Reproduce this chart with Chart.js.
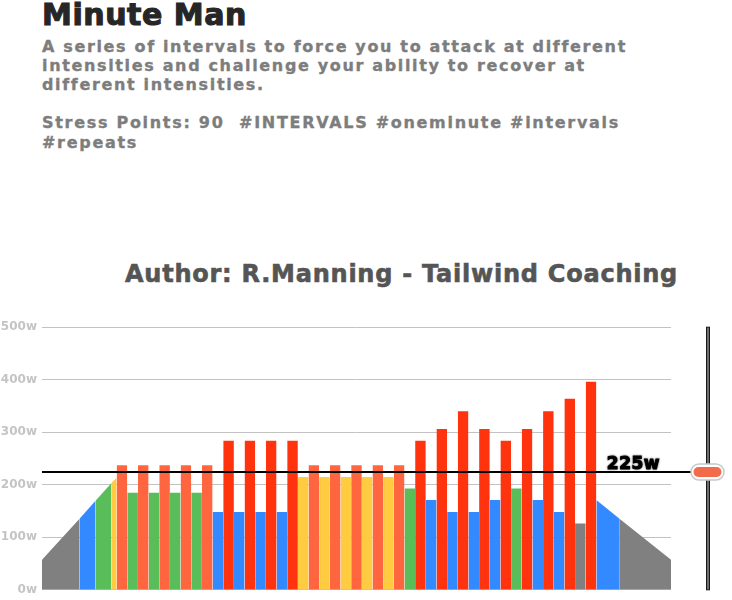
<!DOCTYPE html>
<html><head><meta charset="utf-8">
<script src="https://cdn.jsdelivr.net/npm/chart.js@4"></script>
<style>
html,body{margin:0;padding:0;background:#fff;}
body{width:732px;height:600px;position:relative;overflow:hidden;font-family:"DejaVu Sans",sans-serif;font-weight:bold;}
.t{position:absolute;white-space:pre;}
#title{left:42px;top:0px;font-size:30px;line-height:30px;color:#262626;-webkit-text-stroke:1.1px #262626;}
#desc{left:42px;top:37px;font-size:16px;line-height:19px;color:#7d7d7d;-webkit-text-stroke:0.35px #7d7d7d;}
#tags{left:42px;top:113px;font-size:16px;line-height:20px;color:#7d7d7d;-webkit-text-stroke:0.35px #7d7d7d;}
#author{left:125px;top:262px;font-size:24px;line-height:24px;color:#555;-webkit-text-stroke:0.6px #555;}
#wrap{position:absolute;left:0;top:315px;width:732px;height:287px;}
</style></head>
<body>
<div class="t" id="title" data-w="205"><span>Minute Man</span></div>
<div class="t" id="desc" data-w="584"><span>A series of intervals to force you to attack at different</span>
intensities and challenge your ability to recover at
different intensities.</div>
<div class="t" id="tags" data-w="578"><span>Stress Points: 90  #INTERVALS #oneminute #intervals</span>
#repeats</div>
<div class="t" id="author" data-w="553"><span>Author: R.Manning - Tailwind Coaching</span></div>
<div id="wrap"><canvas id="c" width="732" height="287"></canvas></div>
<script>
// ---- data ----
const ftpWatts = 225;
const yTickValues = [0, 100, 200, 300, 400, 500];
const yTickLabels = ['0w', '100w', '200w', '300w', '400w', '500w'];
// segment durations (minutes)
const segMinutes = [
  3.5, 1.5, 1.5, 0.5,
  1,1,1,1,1,1,1,1,1,
  1,1,1,1,1,1,1,1,
  1,1,1,1,1,1,1,1,1,1,1,
  1,1,1,1,1,1,1,1,1,1,1,1,1,1,1,1,1,
  2.2, 4.8
];
// power at segment start (watts)
const segStartW = [
  57, 135, 169, 203,
  237,185,237,185,237,185,237,185,237,
  148,284,148,284,148,284,148,284,
  215,237,215,237,215,237,215,237,215,237,193,
  284,171,306,148,340,148,306,171,284,193,306,171,340,148,364,126,396,
  171, 135
];
// power at segment end (watts)
const segEndW = [
  135, 169, 203, 214,
  237,185,237,185,237,185,237,185,237,
  148,284,148,284,148,284,148,284,
  215,237,215,237,215,237,215,237,215,237,193,
  284,171,306,148,340,148,306,171,284,193,306,171,340,148,364,126,396,
  135, 57
];
// training zone of each segment
const segZone = [
  'Z1','Z2','Z3','Z4',
  'Z5','Z3','Z5','Z3','Z5','Z3','Z5','Z3','Z5',
  'Z2','Z6','Z2','Z6','Z2','Z6','Z2','Z6',
  'Z4','Z5','Z4','Z5','Z4','Z5','Z4','Z5','Z4','Z5','Z3',
  'Z6','Z2','Z6','Z2','Z6','Z2','Z6','Z2','Z6','Z3','Z6','Z2','Z6','Z2','Z6','Z1','Z6',
  'Z2','Z1'
];
const zoneColors = {Z1:'#808080', Z2:'#3389FF', Z3:'#59BE5A', Z4:'#FFCB40', Z5:'#FF6640', Z6:'#FF330D'};

// ---- text fitting ----
document.querySelectorAll('.t').forEach(el => {
  const span = el.querySelector('span');
  const w = span.getBoundingClientRect().width;
  const target = +el.dataset.w;
  const n = span.textContent.length;
  el.style.letterSpacing = ((target - w) / n) + 'px';
});

// ---- chart ----
let t = 0;
const datasets = segMinutes.map((d, i) => {
  const a = t; t += d;
  return {
    data: [{x: a, y: segStartW[i]}, {x: t, y: segEndW[i]}],
    fill: 'origin',
    backgroundColor: zoneColors[segZone[i]],
    borderWidth: 0,
    pointRadius: 0,
    tension: 0
  };
});
const totalMinutes = t;

const ftpPlugin = {
  id: 'ftp',
  afterDraw(chart) {
    const {ctx, chartArea: ca, scales: {y}} = chart;
    const yy = Math.round(y.getPixelForValue(ftpWatts));
    ctx.save();
    // slider track
    ctx.fillStyle = '#6e6e6e';
    ctx.strokeStyle = '#1a1a1a';
    ctx.lineWidth = 1;
    ctx.fillRect(706.5, ca.top, 3, ca.bottom - ca.top);
    ctx.strokeRect(706.5, ca.top, 3, ca.bottom - ca.top);
    // threshold line
    ctx.strokeStyle = '#000';
    ctx.lineWidth = 2;
    ctx.beginPath();
    ctx.moveTo(ca.left, yy);
    ctx.lineTo(692, yy);
    ctx.stroke();
    // pill
    function rr(x, y0, w, h, r) {
      ctx.beginPath();
      ctx.moveTo(x + r, y0);
      ctx.lineTo(x + w - r, y0);
      ctx.arc(x + w - r, y0 + r, r, -Math.PI / 2, Math.PI / 2);
      ctx.lineTo(x + r, y0 + h);
      ctx.arc(x + r, y0 + r, r, Math.PI / 2, Math.PI * 1.5);
      ctx.closePath();
    }
    rr(691, yy - 8, 33, 16, 8);
    ctx.fillStyle = '#fff';
    ctx.fill();
    ctx.strokeStyle = '#c8c8c8';
    ctx.lineWidth = 1.5;
    ctx.stroke();
    rr(693.5, yy - 5, 28, 10, 5);
    ctx.fillStyle = '#F26C4C';
    ctx.fill();
    // label
    ctx.font = 'bold 17px "DejaVu Sans"';
    ctx.textAlign = 'right';
    ctx.textBaseline = 'alphabetic';
    try { ctx.letterSpacing = '0.5px'; } catch (e) {}
    ctx.shadowColor = 'rgba(0,0,0,0.6)';
    ctx.shadowBlur = 2;
    ctx.fillStyle = '#000';
    ctx.strokeStyle = '#000';
    ctx.lineWidth = 1;
    ctx.fillText(ftpWatts + 'w', 660, yy - 3);
    ctx.strokeText(ftpWatts + 'w', 660, yy - 3);
    ctx.restore();
  }
};

new Chart(document.getElementById('c'), {
  type: 'line',
  data: {datasets},
  options: {
    responsive: false,
    animation: false,
    devicePixelRatio: 1,
    layout: {padding: {left: 0, right: 61, top: 10, bottom: 9}},
    plugins: {legend: {display: false}, tooltip: {enabled: false}},
    scales: {
      x: {type: 'linear', min: 0, max: totalMinutes, display: false},
      y: {
        min: 0, max: 500,
        afterFit(s) { s.width = 42; },
        afterBuildTicks(s) { s.ticks = yTickValues.map(v => ({value: v})); },
        ticks: {
          padding: 5,
          color: '#c4c4c4',
          font: {family: 'DejaVu Sans', weight: 'bold', size: 12},
          callback: (v) => yTickLabels[yTickValues.indexOf(v)]
        },
        grid: {color: '#c2c2c2', lineWidth: 1, drawTicks: false},
        border: {display: false}
      }
    }
  },
  plugins: [ftpPlugin]
});
</script>
</body></html>
